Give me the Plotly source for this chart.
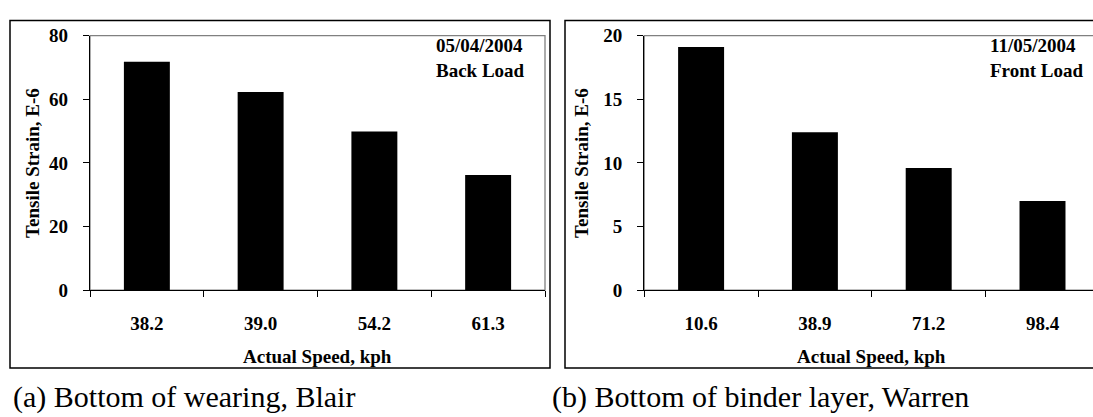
import plotly.graph_objects as go

# ---- data ----
left_speeds = ["38.2", "39.0", "54.2", "61.3"]
left_strain = [71.8, 62.3, 49.9, 36.2]
right_speeds = ["10.6", "38.9", "71.2", "98.4"]
right_strain = [19.1, 12.4, 9.6, 7.0]
left_note = ["05/04/2004", "Back Load"]
right_note = ["11/05/2004", "Front Load"]
captions = ["(a) Bottom of wearing, Blair", "(b) Bottom of binder layer, Warren"]
x_title = "Actual Speed, kph"
y_title = "Tensile Strain, E-6"

W, H = 1093, 417
FONT = "Liberation Serif"
FS = 19


def px(x):
    return x / W


def py(y):
    return 1 - y / H


fig = go.Figure()
fig.add_trace(go.Bar(x=left_speeds, y=left_strain, marker=dict(color="black", line=dict(width=0)),
                     xaxis="x", yaxis="y", showlegend=False))
fig.add_trace(go.Bar(x=right_speeds, y=right_strain, marker=dict(color="black", line=dict(width=0)),
                     xaxis="x2", yaxis="y2", showlegend=False))

ydom = [py(295), py(27)]
tf = dict(family=FONT, size=FS, color="black", weight="bold")
common_x = dict(type="category", showline=True, linecolor="black", linewidth=1.3,
                ticks="outside", ticklen=6, tickcolor="black", tickwidth=1.3,
                tickson="boundaries", showgrid=False, zeroline=False,
                tickfont=tf, ticklabelstandoff=16, fixedrange=True)
common_y = dict(showline=True, linecolor="black", linewidth=1.3,
                ticks="outside", ticklen=6, tickcolor="black", tickwidth=1.3,
                showgrid=False, zeroline=False,
                tickfont=tf, ticklabelstandoff=11, fixedrange=True)

fig.update_layout(
    width=W, height=H, margin=dict(l=0, r=0, t=0, b=0),
    paper_bgcolor="white", plot_bgcolor="white",
    bargap=0.596,
    font=dict(family=FONT, color="black"),
    xaxis=dict(domain=[px(90), px(545)], anchor="y", range=[-0.5, 3.5], **common_x),
    yaxis=dict(domain=ydom, anchor="x", range=[0, 80], dtick=20, **common_y),
    xaxis2=dict(domain=[px(644.2), 1.0], anchor="y2", range=[-0.5, 3.5 - 6.4 / 113.8], **common_x),
    yaxis2=dict(domain=ydom, anchor="x2", range=[0, 20], dtick=5, **common_y),
)

shapes = [
    dict(type="rect", xref="paper", yref="paper", x0=px(10), x1=px(550), y0=py(377), y1=py(11),
         line=dict(color="black", width=1.5), layer="below"),
    dict(type="rect", xref="paper", yref="paper", x0=px(565), x1=px(1100), y0=py(377), y1=py(11),
         line=dict(color="black", width=1.5), layer="below"),
    dict(type="rect", xref="x domain", yref="y domain", x0=0, x1=1, y0=0, y1=1,
         line=dict(color="#808080", width=1.3), layer="below"),
    dict(type="rect", xref="x2 domain", yref="y2 domain", x0=0, x1=1.02, y0=0, y1=1,
         line=dict(color="#808080", width=1.3), layer="below"),
]
fig.update_layout(shapes=shapes)

bold = dict(family=FONT, size=FS, color="black", weight="bold")
cap = dict(family=FONT, size=30, color="black")
fig.add_annotation(text=x_title, xref="paper", yref="paper", x=px(317.5), y=py(365), showarrow=False,
                   xanchor="center", yanchor="middle", font=bold)
fig.add_annotation(text=x_title, xref="paper", yref="paper", x=px(871), y=py(365), showarrow=False,
                   xanchor="center", yanchor="middle", font=bold)
fig.add_annotation(text=y_title, xref="paper", yref="paper", x=px(33), y=py(161), showarrow=False,
                   xanchor="center", yanchor="middle", textangle=-90, font=bold)
fig.add_annotation(text=y_title, xref="paper", yref="paper", x=px(582), y=py(161), showarrow=False,
                   xanchor="center", yanchor="middle", textangle=-90, font=bold)
fig.add_annotation(text="<br>".join(left_note), xref="paper", yref="paper", x=px(434), y=py(51),
                   showarrow=False, xanchor="left", yanchor="middle", align="left", font=bold)
fig.add_annotation(text="<br>".join(right_note), xref="paper", yref="paper", x=px(988), y=py(51),
                   showarrow=False, xanchor="left", yanchor="middle", align="left", font=bold)
fig.add_annotation(text=captions[0], xref="paper", yref="paper", x=px(11), y=py(408), showarrow=False,
                   xanchor="left", yanchor="middle", font=cap)
fig.add_annotation(text=captions[1], xref="paper", yref="paper", x=px(550), y=py(408), showarrow=False,
                   xanchor="left", yanchor="middle", font=cap)

fig.write_html("out.html")
